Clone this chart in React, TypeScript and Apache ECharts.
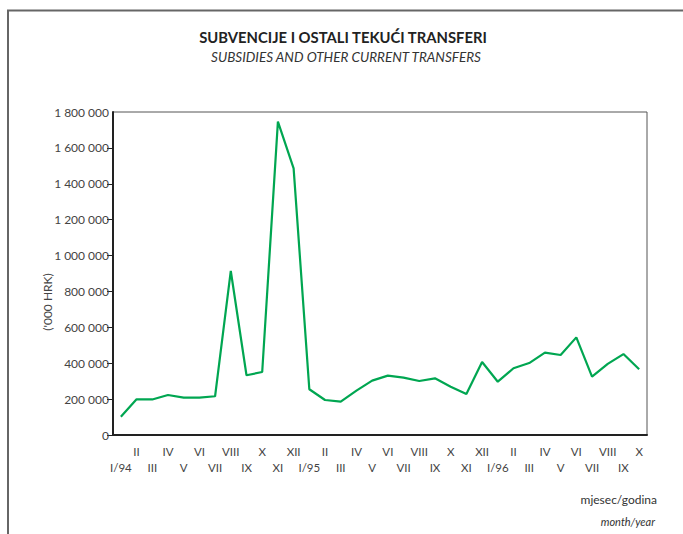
import React, { useEffect, useRef } from "react";
import * as echarts from "echarts";

const months: string[] = [
  "I/94", "II", "III", "IV", "V", "VI", "VII", "VIII", "IX", "X", "XI", "XII",
  "I/95", "II", "III", "IV", "V", "VI", "VII", "VIII", "IX", "X", "XI", "XII",
  "I/96", "II", "III", "IV", "V", "VI", "VII", "VIII", "IX", "X",
];

const values: number[] = [
  102000, 199000, 198000, 223000, 208000, 208000, 216000, 914000, 333000, 351000, 1746000, 1486000,
  255000, 195000, 186000, 247000, 303000, 331000, 320000, 301000, 316000, 269000, 228000, 407000,
  297000, 372000, 401000, 459000, 446000, 544000, 325000, 396000, 451000, 366000,
];

const yMin = 0;
const yMax = 1800000;
const yStep = 200000;
const tickValues: number[] = [0, 200000, 400000, 600000, 800000, 1000000, 1200000, 1400000, 1600000];

const titleText = "SUBVENCIJE I OSTALI TEKUĆI TRANSFERI";
const subtitleText = "SUBSIDIES AND OTHER CURRENT TRANSFERS";
const yUnit = "('000 HRK)";
const xNameHr = "mjesec/godina";
const xNameEn = "month/year";

const FONT = "Lato, 'Open Sans', sans-serif";

export default function App() {
  const ref = useRef<HTMLDivElement>(null);
  useEffect(() => {
    if (!ref.current) return;
    const chart = echarts.init(ref.current, undefined, { renderer: "svg" });
    chart.setOption({
      animation: false,
      backgroundColor: "#ffffff",
      textStyle: { fontFamily: FONT },
      grid: {
        left: 113,
        top: 112,
        right: 36,
        bottom: 99,
        show: true,
        borderColor: "#555",
        borderWidth: 1,
        backgroundColor: "transparent",
      },
      xAxis: {
        type: "category",
        data: months,
        boundaryGap: true,
        axisLine: { show: true, lineStyle: { color: "#222", width: 2 } },
        axisTick: { show: false },
        axisLabel: {
          interval: 0,
          margin: 8,
          color: "#444",
          fontSize: 11.5,
          fontFamily: FONT,
          lineHeight: 16,
          formatter: (v: string, i: number) => (i % 2 === 1 ? v : "\n" + v),
        },
        splitLine: { show: false },
      },
      yAxis: {
        type: "value",
        min: yMin,
        max: yMax,
        interval: yStep,
        axisLine: { show: true, lineStyle: { color: "#222", width: 2 } },
        axisTick: {
          show: true,
          inside: false,
          length: 6,
          customValues: tickValues,
          lineStyle: { color: "#222", width: 1 },
        },
        axisLabel: {
          margin: 4,
          color: "#444",
          fontSize: 12,
          fontFamily: FONT,
          formatter: (v: number) => String(v).replace(/\B(?=(\d{3})+(?!\d))/g, " "),
        },
        splitLine: { show: false },
      },
      series: [
        {
          type: "line",
          data: values,
          symbol: "none",
          lineStyle: { color: "#00a651", width: 2.2 },
        },
      ],
      graphic: [
        {
          type: "polyline",
          shape: { points: [[8, 534], [8, 10.5], [683, 10.5]] },
          style: { stroke: "#666", lineWidth: 2, fill: "none" },
        },
        {
          type: "text",
          x: 343,
          y: 37,
          style: {
            text: titleText,
            align: "center",
            verticalAlign: "middle",
            font: `bold 14.8px ${FONT}`,
            fill: "#222",
          },
        },
        {
          type: "text",
          x: 346,
          y: 57,
          style: {
            text: subtitleText,
            align: "center",
            verticalAlign: "middle",
            font: `italic 13.5px ${FONT}`,
            fill: "#333",
          },
        },
        {
          type: "text",
          x: 47,
          y: 302,
          rotation: Math.PI / 2,
          style: {
            text: yUnit,
            align: "center",
            verticalAlign: "middle",
            font: `12px ${FONT}`,
            fill: "#444",
          },
        },
        {
          type: "text",
          x: 657,
          y: 499,
          style: {
            text: xNameHr,
            align: "right",
            verticalAlign: "middle",
            font: `12px ${FONT}`,
            fill: "#333",
          },
        },
        {
          type: "text",
          x: 655,
          y: 521,
          style: {
            text: xNameEn,
            align: "right",
            verticalAlign: "middle",
            font: `italic 11px ${FONT}`,
            fill: "#333",
          },
        },
      ],
    });
    return () => chart.dispose();
  }, []);
  return (
    <div
      ref={ref}
      style={{ position: "absolute", left: 0, top: 0, width: 683, height: 534 }}
    />
  );
}
